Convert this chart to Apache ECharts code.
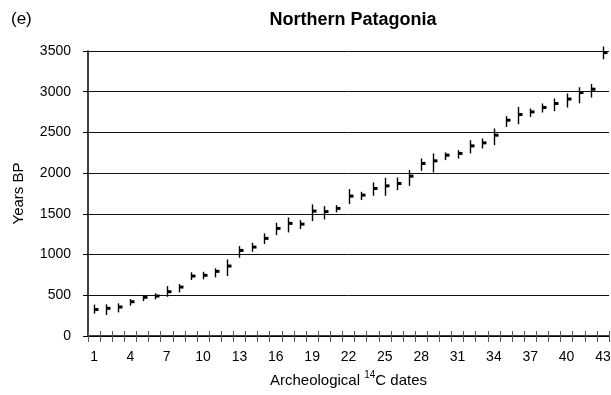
<!DOCTYPE html>
<html>
<head>
<meta charset="utf-8">
<script src="https://cdn.jsdelivr.net/npm/echarts@6/dist/echarts.min.js"></script>
<style>html,body{margin:0;padding:0;background:#fff;}#c{width:611px;height:395px;}</style>
</head>
<body>
<div id="c"></div>
<script>
const categories = ['1','2','3','4','5','6','7','8','9','10','11','12','13','14','15','16','17','18','19','20','21','22','23','24','25','26','27','28','29','30','31','32','33','34','35','36','37','38','39','40','41','42','43'];
const midValues = [325,340,356,421,475,491,544,601,736,745,794,859,1051,1092,1199,1321,1383,1374,1534,1528,1567,1718,1730,1812,1844,1873,1963,2119,2151,2221,2242,2335,2372,2466,2650,2720,2752,2806,2855,2910,2990,3031,3481];
const lowValues = [275,258,290,372,429,450,482,536,687,696,720,736,961,1034,1129,1239,1272,1313,1411,1432,1518,1620,1669,1722,1722,1791,1844,2028,2009,2160,2180,2242,2303,2344,2568,2601,2691,2745,2761,2806,2859,2929,3399];
const highValues = [385,389,401,454,503,524,613,638,782,789,831,941,1104,1145,1260,1390,1456,1423,1616,1595,1607,1804,1771,1886,1942,1947,2037,2180,2242,2254,2282,2405,2426,2549,2700,2814,2794,2855,2917,2978,3055,3096,3555];
const yTickLabels = ['0','500','1000','1500','2000','2500','3000','3500'];

const FONT = '"Liberation Sans", Arial, Helvetica, sans-serif';
const data = categories.map((c, i) => [i, midValues[i], lowValues[i], highValues[i]]);

const chart = echarts.init(document.getElementById('c'), null, {renderer: 'canvas'});
chart.setOption({
  animation: false,
  backgroundColor: '#fff',
  title: [
    {text: 'Northern Patagonia', left: 348, top: 6, textAlign: 'center',
     textStyle: {fontFamily: FONT, fontSize: 18, fontWeight: 'bold', color: '#000'}},
    {text: '(e)', left: 6, top: 6,
     textStyle: {fontFamily: FONT, fontSize: 17, fontWeight: 'normal', color: '#000'}}
  ],
  grid: {left: 88, right: 2, top: 51, bottom: 59, containLabel: false, outerBoundsMode: 'none'},
  xAxis: [
    {
      type: 'category', data: categories, position: 'bottom', boundaryGap: true,
      axisLine: {show: true, lineStyle: {color: '#000', width: 1.5}},
      axisTick: {show: true, interval: 0, length: 6, lineStyle: {color: '#555', width: 1}},
      axisLabel: {interval: 2, margin: 14, fontFamily: FONT, fontSize: 14, color: '#000'},
      splitLine: {show: false},
      name: '{a|Archeological }{s|14}{a|C dates}', nameLocation: 'middle', nameGap: 34,
      nameTextStyle: {
        fontFamily: FONT, fontSize: 15, color: '#000',
        rich: {
          a: {fontFamily: FONT, fontSize: 15, color: '#000', lineHeight: 18, verticalAlign: 'bottom'},
          s: {fontFamily: FONT, fontSize: 10, color: '#000', lineHeight: 18, verticalAlign: 'top'}
        }
      }
    },
    {
      type: 'category', data: categories, position: 'bottom', boundaryGap: true,
      axisLine: {show: false},
      axisTick: {show: true, inside: true, interval: 0, length: 5, lineStyle: {color: '#555', width: 1}},
      axisLabel: {show: false},
      splitLine: {show: false}
    }
  ],
  yAxis: {
    type: 'value', min: 0, max: 3500, interval: 500,
    axisLine: {show: true, lineStyle: {color: '#000', width: 1.5}},
    axisTick: {show: true, length: 5, lineStyle: {color: '#000', width: 1}},
    axisLabel: {margin: 17, fontFamily: FONT, fontSize: 14, color: '#000',
      formatter: (v) => yTickLabels[Math.round(v / 500)]},
    splitLine: {show: true, lineStyle: {color: '#111', width: 1}},
    name: 'Years BP', nameLocation: 'middle', nameGap: 62, nameRotate: 90,
    nameTextStyle: {fontFamily: FONT, fontSize: 15, color: '#000'}
  },
  series: [{
    type: 'custom',
    xAxisIndex: 0,
    clip: false,
    data: data,
    encode: {x: 0, y: 1},
    renderItem: function (params, api) {
      const x = api.value(0);
      const c = api.coord([x, api.value(1)]);
      const lo = api.coord([x, api.value(2)]);
      const hi = api.coord([x, api.value(3)]);
      const bx = Math.round(c[0]) + 0.5;
      return {
        type: 'group',
        children: [
          {type: 'line', shape: {x1: bx, y1: lo[1], x2: bx, y2: hi[1]}, style: {stroke: '#000', lineWidth: 1.4}},
          {type: 'rect', shape: {x: bx, y: c[1] - 1.5, width: 4, height: 3}, style: {fill: '#000'}}
        ]
      };
    }
  }]
});
</script>
</body>
</html>
